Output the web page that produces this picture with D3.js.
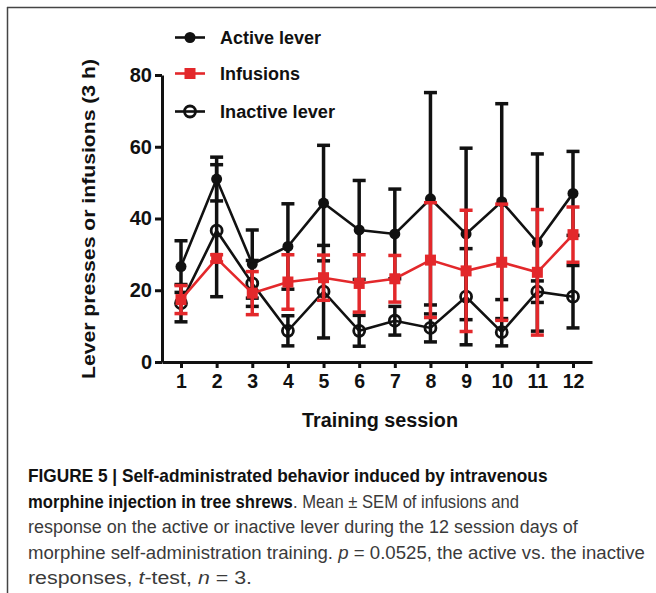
<!DOCTYPE html>
<html>
<head>
<meta charset="utf-8">
<script src="https://cdn.jsdelivr.net/npm/d3@7"></script>
<style>
  html, body { margin: 0; padding: 0; background: #fff; }
  svg { display: block; }
  text { font-family: "Liberation Sans", Arial, Helvetica, sans-serif; }
</style>
</head>
<body>
<svg id="chart" width="656" height="593"></svg>
<script>
// ---- data ----
const sessions = [1, 2, 3, 4, 5, 6, 7, 8, 9, 10, 11, 12];
const activeMean = [26.6, 51.0, 27.3, 32.2, 44.3, 36.8, 35.7, 45.5, 35.7, 44.7, 33.3, 47.0];
const activeSem  = [7.2, 6.1, 9.5, 11.9, 16.1, 13.8, 12.5, 29.6, 23.9, 27.3, 24.7, 11.7];
const infusionMean = [17.4, 28.9, 19.2, 22.3, 23.5, 21.9, 23.2, 28.4, 25.4, 27.8, 25.0, 35.5];
const infusionSem  = [3.9, 1.0, 6.0, 7.6, 6.3, 8.0, 6.5, 16.0, 16.9, 16.2, 17.5, 7.7];
const inactiveMean = [16.4, 36.6, 21.9, 8.7, 19.6, 8.7, 11.5, 9.5, 18.2, 8.3, 19.6, 18.2];
const inactiveSem  = [5.2, 18.4, 6.4, 4.2, 12.9, 4.3, 4.0, 3.9, 13.4, 3.8, 3.0, 8.7];
const yTicks = [0, 20, 40, 60, 80];
const seriesNames = ["Active lever", "Infusions", "Inactive lever"];
const yTitle = "Lever presses or infusions (3 h)";
const xTitle = "Training session";

// ---- layout ----
const svg = d3.select("#chart");
const RED = "#e3282b";
const x = d3.scaleLinear().domain([1, 12]).range([181, 573]);
const y = d3.scaleLinear().domain([0, 80]).range([362, 75]);
const xAxisScale = x.copy().domain([x.invert(162), x.invert(592)]).range([162, 592]);

// frame lines (top and left)
svg.append("line").attr("x1", 7).attr("x2", 656).attr("y1", 7.5).attr("y2", 7.5)
  .attr("stroke", "#444").attr("stroke-width", 1.5);
svg.append("line").attr("x1", 7.5).attr("x2", 7.5).attr("y1", 7).attr("y2", 593)
  .attr("stroke", "#444").attr("stroke-width", 1.5);

// axes
const yAxis = svg.append("g").attr("transform", "translate(162,0)")
  .call(d3.axisLeft(y).tickValues(yTicks).tickSize(7).tickSizeOuter(0).tickPadding(3));
const xAxis = svg.append("g").attr("transform", "translate(0,362)")
  .call(d3.axisBottom(xAxisScale).tickValues(sessions).tickSize(6).tickSizeOuter(0).tickPadding(6)
    .tickFormat(d3.format("d")));
[yAxis, xAxis].forEach(g => {
  g.select(".domain").attr("stroke", "#111").attr("stroke-width", 3);
  g.selectAll(".tick line").attr("stroke", "#111").attr("stroke-width", 3);
  g.selectAll(".tick text").attr("fill", "#111").attr("font-weight", "bold")
    .attr("font-family", "'Liberation Sans', Arial, sans-serif");
});
yAxis.selectAll(".tick text").attr("font-size", 20);
xAxis.selectAll(".tick text").attr("font-size", 19.5);

// axis titles
svg.append("text").attr("transform", "translate(95,219) rotate(-90)")
  .attr("text-anchor", "middle").attr("font-size", 19).attr("font-weight", "bold")
  .attr("fill", "#111").attr("textLength", 320).attr("lengthAdjust", "spacingAndGlyphs")
  .text(yTitle);
svg.append("text").attr("x", 380).attr("y", 427)
  .attr("text-anchor", "middle").attr("font-size", 20).attr("font-weight", "bold")
  .attr("fill", "#111").attr("textLength", 156).attr("lengthAdjust", "spacingAndGlyphs")
  .text(xTitle);

// series drawing
function drawSeries(means, sems, color, marker) {
  const g = svg.append("g");
  const data = sessions.map((s, i) => ({ s, m: means[i], e: sems[i] }));
  const eb = g.selectAll(".eb").data(data).enter().append("g");
  eb.append("line").attr("x1", d => x(d.s)).attr("x2", d => x(d.s))
    .attr("y1", d => y(d.m + d.e)).attr("y2", d => y(d.m - d.e))
    .attr("stroke", color).attr("stroke-width", 3.5);
  [1, -1].forEach(sign => {
    eb.append("line").attr("x1", d => x(d.s) - 6.5).attr("x2", d => x(d.s) + 6.5)
      .attr("y1", d => y(d.m + sign * d.e)).attr("y2", d => y(d.m + sign * d.e))
      .attr("stroke", color).attr("stroke-width", 3.5);
  });
  g.append("path").datum(data)
    .attr("d", d3.line().x(d => x(d.s)).y(d => y(d.m)))
    .attr("fill", "none").attr("stroke", color).attr("stroke-width", 2.6);
  drawMarkers(g, data.map(d => [x(d.s), y(d.m)]), color, marker);
}
function drawMarkers(g, pts, color, marker) {
  pts.forEach(([px, py]) => {
    if (marker === "filled") {
      g.append("circle").attr("cx", px).attr("cy", py).attr("r", 5.5).attr("fill", color);
    } else if (marker === "square") {
      g.append("rect").attr("x", px - 5.5).attr("y", py - 5.5).attr("width", 11).attr("height", 11)
        .attr("fill", color);
    } else {
      g.append("circle").attr("cx", px).attr("cy", py).attr("r", 5.5)
        .attr("fill", "none").attr("stroke", color).attr("stroke-width", 2.8);
    }
  });
}
drawSeries(activeMean, activeSem, "#111", "filled");
drawSeries(inactiveMean, inactiveSem, "#111", "open");
drawSeries(infusionMean, infusionSem, RED, "square");

// legend
const legendY = [37.5, 73.5, 111.5];
const legendColors = ["#111", RED, "#111"];
const legendMarkers = ["filled", "square", "open"];
const legendLens = [101, 80, 115];
const lg = svg.append("g");
seriesNames.forEach((name, i) => {
  lg.append("line").attr("x1", 175).attr("x2", 205).attr("y1", legendY[i]).attr("y2", legendY[i])
    .attr("stroke", legendColors[i]).attr("stroke-width", 2.6);
  drawMarkers(lg, [[190, legendY[i]]], legendColors[i], legendMarkers[i]);
  lg.append("text").attr("x", 220).attr("y", legendY[i] + 6.3)
    .attr("font-size", 17.5).attr("font-weight", "bold").attr("fill", "#111")
    .attr("textLength", legendLens[i]).attr("lengthAdjust", "spacingAndGlyphs")
    .text(name);
});

// caption: pieces placed one after another, each line condensed to its width
const capX = 28;
const capBase = [482, 507.5, 533, 558.5, 584];
const capWidths = [520, 491, 550, 617, 224];
const captionLines = [
  [{ t: "FIGURE 5 | Self-administrated behavior induced by intravenous", b: true }],
  [{ t: "morphine injection in tree shrews", b: true }, { t: ". Mean \u00B1 SEM of infusions and" }],
  [{ t: "response on the active or inactive lever during the 12 session days of" }],
  [{ t: "morphine self-administration training. " }, { t: "p", i: true }, { t: " = 0.0525, the active vs. the inactive" }],
  [{ t: "responses, " }, { t: "t", i: true }, { t: "-test, " }, { t: "n", i: true }, { t: " = 3." }]
];
const capSize = 18.5;
function addPiece(g, p) {
  return g.append("text").attr("x", 0).attr("y", 0)
    .style("white-space", "pre")
    .attr("font-size", capSize)
    .attr("font-weight", p.b ? "bold" : "normal")
    .attr("font-style", p.i ? "italic" : "normal")
    .attr("fill", p.b ? "#111" : "#3a3a3a")
    .text(p.t);
}
captionLines.forEach((parts, li) => {
  const g = svg.append("g");
  const nodes = parts.map(p => addPiece(g, p));
  const widths = nodes.map(n => n.node().getComputedTextLength());
  const total = widths.reduce((a, b) => a + b, 0);
  const s = capWidths[li] / total;
  let cursor = capX;
  nodes.forEach((t, k) => {
    t.attr("transform", `translate(${cursor},${capBase[li]}) scale(${s},1)`);
    cursor += widths[k] * s;
  });
});
</script>
</body>
</html>
